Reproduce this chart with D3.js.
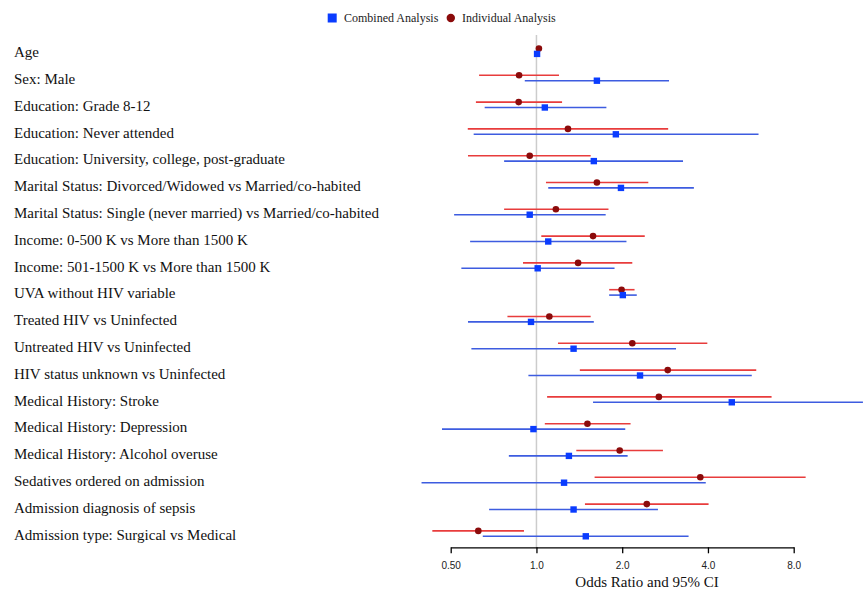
<!DOCTYPE html>
<html><head><meta charset="utf-8">
<script src="https://cdn.jsdelivr.net/npm/d3@7"></script>
<style>body{margin:0;background:#fff}svg{display:block}</style>
</head><body>
<svg id="c" width="867" height="590"></svg>
<script>
const labels = ["Age","Sex: Male","Education: Grade 8-12","Education: Never attended","Education: University, college, post-graduate","Marital Status: Divorced/Widowed vs Married/co-habited","Marital Status: Single (never married) vs Married/co-habited","Income: 0-500 K vs More than 1500 K","Income: 501-1500 K vs More than 1500 K","UVA without HIV variable","Treated HIV vs Uninfected","Untreated HIV vs Uninfected","HIV status unknown vs Uninfected","Medical History: Stroke","Medical History: Depression","Medical History: Alcohol overuse","Sedatives ordered on admission","Admission diagnosis of sepsis","Admission type: Surgical vs Medical"];
const combEst = [1.005,1.63,1.07,1.90,1.59,1.98,0.947,1.10,1.01,2.01,0.957,1.35,2.31,4.85,0.976,1.30,1.25,1.35,1.49];
const combLo  = [0.995,0.91,0.658,0.602,0.77,1.10,0.514,0.585,0.545,1.80,0.575,0.591,0.937,1.58,0.466,0.80,0.395,0.682,0.648];
const combHi  = [1.015,2.92,1.76,6.02,3.27,3.57,1.75,2.07,1.88,2.25,1.59,3.09,5.70,14.0,2.05,2.09,3.93,2.67,3.42];
const indEst  = [1.02,0.869,0.866,1.29,0.947,1.63,1.17,1.58,1.40,1.99,1.11,2.17,2.89,2.69,1.51,1.96,3.76,2.44,0.625];
const indLo   = [1.01,0.629,0.613,0.574,0.575,1.08,0.77,1.04,0.897,1.80,0.791,1.19,1.42,1.09,1.07,1.38,1.60,1.48,0.431];
const indHi   = [1.03,1.20,1.23,2.90,1.55,2.47,1.79,2.40,2.17,2.21,1.55,3.98,5.91,6.69,2.14,2.78,8.81,4.02,0.904];
const tickValues = [0.5,1,2,4,8];
const tickLabels = ["0.50","1.0","2.0","4.0","8.0"];
const seriesNames = ["Combined Analysis","Individual Analysis"];

const svg = d3.select("#c");
const x = d3.scaleLog().base(2).domain([0.5,8]).range([450.7,793.7]);
const y = d3.scaleLinear().domain([0,18]).range([51.2,533.6]);
const off = 2.7;
const serif = "'Liberation Serif','Times New Roman',serif";
const blueLine = "#3d5ce0", blueMark = "#0a3cff", redLine = "#e83c3c", redMark = "#8b0b0b";

// reference line
svg.append("line").attr("x1",x(1)).attr("x2",x(1)).attr("y1",35).attr("y2",547.3)
  .attr("stroke","#cccccc").attr("stroke-width",1.5);

// labels
svg.append("g").selectAll("text").data(labels).join("text")
  .attr("x",14).attr("y",(d,i)=>y(i)+0.8).attr("dy","0.35em")
  .attr("font-family",serif).attr("font-size",15).attr("fill","#111").text(d=>d);

const g = svg.append("g");
const idx = d3.range(labels.length);
// individual (red)
g.selectAll(".il").data(idx).join("line")
  .attr("x1",i=>x(indLo[i])).attr("x2",i=>x(indHi[i]))
  .attr("y1",i=>y(i)-off).attr("y2",i=>y(i)-off)
  .attr("stroke",redLine).attr("stroke-width",1.6);
// combined (blue)
g.selectAll(".cl").data(idx).join("line")
  .attr("x1",i=>x(combLo[i])).attr("x2",i=>x(combHi[i]))
  .attr("y1",i=>y(i)+off).attr("y2",i=>y(i)+off)
  .attr("stroke",blueLine).attr("stroke-width",1.6);
g.selectAll(".ip").data(idx).join("circle")
  .attr("cx",i=>x(indEst[i])).attr("cy",i=>y(i)-off).attr("r",3.3)
  .attr("fill",redMark);
g.selectAll(".cp").data(idx).join("rect")
  .attr("x",i=>x(combEst[i])-3.2).attr("y",i=>y(i)+off-3.2)
  .attr("width",6.4).attr("height",6.4).attr("fill",blueMark);

// axis
const ax = svg.append("g").attr("transform","translate(0,547.3)")
  .call(d3.axisBottom(x).tickValues(tickValues).tickFormat((d,i)=>tickLabels[i]).tickSize(6).tickSizeOuter(0));
ax.select(".domain").attr("stroke","#000").attr("stroke-width",1.3);
ax.selectAll(".tick line").attr("stroke","#000").attr("stroke-width",1.3);
ax.selectAll(".tick text").attr("font-family","'Liberation Sans',Arial,sans-serif").attr("font-size",10).attr("fill","#222").attr("dy","0.71em").attr("y",15);
svg.append("text").attr("x",647).attr("y",586.5)
  .attr("text-anchor","middle").attr("font-family",serif).attr("font-size",15).attr("fill","#111")
  .text("Odds Ratio and 95% CI");

// legend
const lg = svg.append("g");
lg.append("rect").attr("x",327.7).attr("y",13.5).attr("width",9).attr("height",9).attr("fill",blueMark);
lg.append("text").attr("x",344).attr("y",18).attr("dy","0.35em").attr("font-family",serif).attr("font-size",12).attr("fill","#222").text(seriesNames[0]);
lg.append("circle").attr("cx",450.8).attr("cy",18).attr("r",4.2).attr("fill",redMark);
lg.append("text").attr("x",462).attr("y",18).attr("dy","0.35em").attr("font-family",serif).attr("font-size",12).attr("fill","#222").text(seriesNames[1]);
</script>
</body></html>
